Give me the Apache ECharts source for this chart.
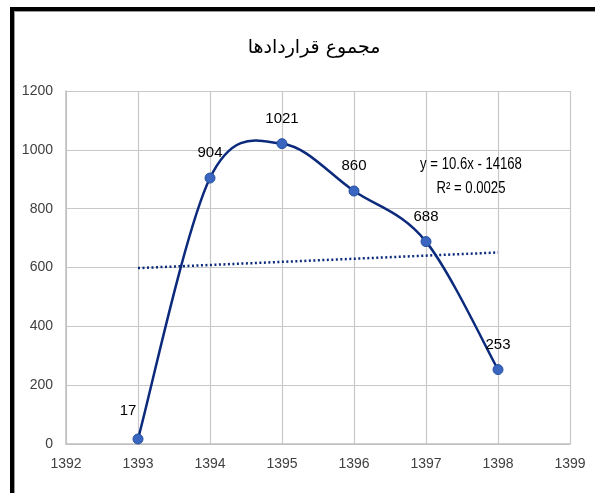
<!DOCTYPE html>
<html>
<head>
<meta charset="utf-8">
<script src="https://cdn.jsdelivr.net/npm/echarts@6/dist/echarts.min.js"></script>
<style>
  html, body { margin: 0; padding: 0; background: #fff; }
  #chart { width: 595px; height: 493px; }
</style>
</head>
<body>
<div id="chart"></div>
<script>
// values
var years = [1393, 1394, 1395, 1396, 1397, 1398]
var totals = [17, 904, 1021, 860, 688, 253]
var trendYears = [1393, 1398]
var trendValues = [598, 651]
var titleText = 'مجموع قراردادها'
var equationLines = ['y = 10.6x - 14168', 'R² = 0.0025']

var font = '"Liberation Sans", Arial, sans-serif'
var navy = '#0b2a7c'

var chart = echarts.init(document.getElementById('chart'))

// smooth curve like the spreadsheet one (catmull-rom through the points)
function smoothPath (pts) {
  var t = 1 / 6
  var d = 'M' + pts[0][0] + ',' + pts[0][1]
  for (var i = 0; i < pts.length - 1; i++) {
    var p0 = pts[i - 1] || pts[i]
    var p1 = pts[i]
    var p2 = pts[i + 1]
    var p3 = pts[i + 2] || pts[i + 1]
    var c1x = p1[0] + (p2[0] - p0[0]) * t
    var c1y = p1[1] + (p2[1] - p0[1]) * t
    var c2x = p2[0] - (p3[0] - p1[0]) * t
    var c2y = p2[1] - (p3[1] - p1[1]) * t
    d += ' C' + c1x + ',' + c1y + ' ' + c2x + ',' + c2y + ' ' + p2[0] + ',' + p2[1]
  }
  return d
}

var option = {
  animation: false,
  backgroundColor: '#fff',
  title: {
    text: titleText,
    left: 309,
    top: 34,
    textAlign: 'center',
    textStyle: { fontFamily: '"DejaVu Sans", sans-serif', fontSize: 19, fontWeight: 'normal', color: '#000' }
  },
  grid: { left: 66, right: 25, top: 91, bottom: 49 },
  xAxis: {
    type: 'value',
    min: 1392,
    max: 1399,
    interval: 1,
    axisLine: { show: true, lineStyle: { color: '#bfbfbf', width: 1.5 } },
    axisTick: { show: false },
    splitLine: { show: true, lineStyle: { color: '#c8c8c8', width: 1.2 } },
    axisLabel: {
      margin: 13,
      fontFamily: font,
      fontSize: 14,
      color: '#404040',
      formatter: function (v) { return String(v) }
    }
  },
  yAxis: {
    type: 'value',
    min: 0,
    max: 1200,
    interval: 200,
    axisLine: { show: true, lineStyle: { color: '#bfbfbf', width: 1.5 } },
    axisTick: { show: false },
    splitLine: { show: true, lineStyle: { color: '#c8c8c8', width: 1.2 } },
    axisLabel: {
      margin: 13,
      fontFamily: font,
      fontSize: 14,
      color: '#404040',
      formatter: function (v) { return String(v) }
    }
  },
  series: [
    {
      type: 'line',
      data: trendYears.map(function (y, i) { return [y, trendValues[i]] }),
      showSymbol: false,
      lineStyle: { color: navy, width: 2.5, type: [2, 2.5] },
      z: 2
    },
    {
      type: 'custom',
      data: years.map(function (y, i) { return [y, totals[i]] }),
      silent: true,
      z: 3,
      renderItem: function (params, api) {
        if (params.dataIndex !== 0) return null
        var pts = years.map(function (y, i) { return api.coord([y, totals[i]]) })
        return {
          type: 'path',
          shape: { pathData: smoothPath(pts) },
          style: { fill: 'none', stroke: navy, lineWidth: 2.5 }
        }
      }
    },
    {
      type: 'scatter',
      data: years.map(function (y, i) { return [y, totals[i]] }),
      symbol: 'circle',
      symbolSize: 10,
      itemStyle: { color: '#3a66c0', borderColor: '#2650a0', borderWidth: 1, opacity: 1 },
      label: {
        show: true,
        position: 'top',
        distance: 12,
        fontFamily: font,
        fontSize: 15,
        color: '#000',
        formatter: function (p) { return String(p.value[1]) }
      },
      labelLayout: function (params) {
        if (params.dataIndex === 0) {
          return { dx: -10, dy: -3 }
        }
        return {}
      },
      z: 4
    }
  ],
  graphic: [
    {
      type: 'text',
      x: 471,
      y: 153,
      scaleX: 0.82,
      z: 10,
      style: {
        text: equationLines.join('\n'),
        x: 0,
        y: 0,
        align: 'center',
        fontFamily: font,
        fontSize: 16,
        lineHeight: 24,
        fill: '#000'
      }
    },
    { type: 'rect', shape: { x: 10, y: 7, width: 4, height: 486 }, style: { fill: '#000' }, z: 20 },
    { type: 'rect', shape: { x: 10, y: 7, width: 585, height: 4 }, style: { fill: '#000' }, z: 20 },
    { type: 'rect', shape: { x: 14, y: 11, width: 581, height: 1 }, style: { fill: '#9a9a9a' }, z: 20 },
    { type: 'rect', shape: { x: 14, y: 11, width: 1, height: 482 }, style: { fill: '#9a9a9a' }, z: 20 }
  ]
}

chart.setOption(option)
</script>
</body>
</html>
